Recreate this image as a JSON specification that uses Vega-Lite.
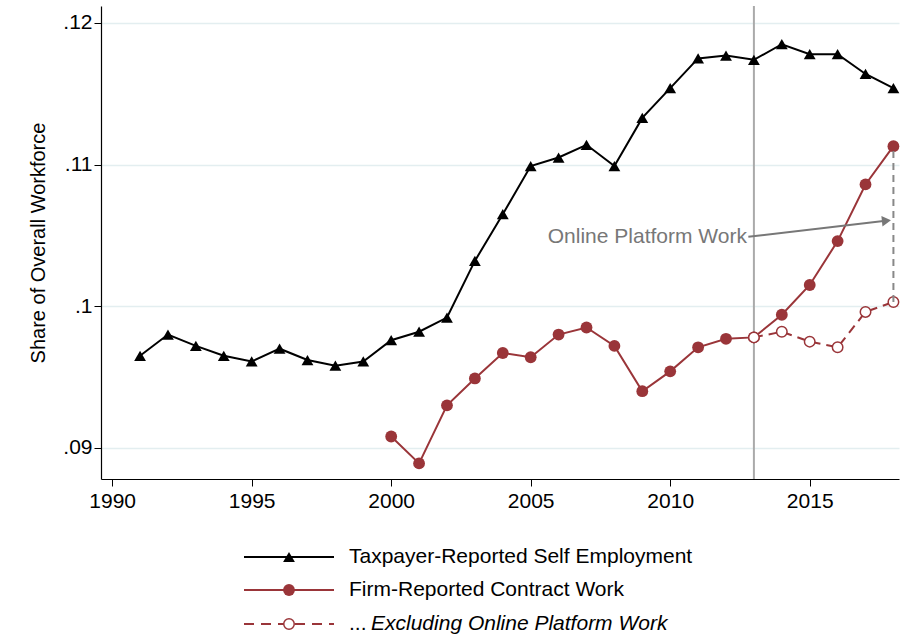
{
  "$schema": "https://vega.github.io/schema/vega-lite/v6.json",
  "background": "white",
  "padding": {"left": 28, "top": 5, "right": 0, "bottom": 0},
  "config": {
    "font": "Liberation Sans",
    "view": {"stroke": null},
    "axis": {"labelFontSize": 21, "titleFontSize": 20, "labelColor": "#000", "titleColor": "#000", "titleFontWeight": "normal", "tickColor": "#000", "domainColor": "#000", "tickSize": 7, "domainWidth": 1.2}
  },
  "datasets": {
    "series": [
      {"year": 1991, "value": 0.0965, "series": "self"},
      {"year": 1992, "value": 0.0980, "series": "self"},
      {"year": 1993, "value": 0.0972, "series": "self"},
      {"year": 1994, "value": 0.0965, "series": "self"},
      {"year": 1995, "value": 0.0961, "series": "self"},
      {"year": 1996, "value": 0.0970, "series": "self"},
      {"year": 1997, "value": 0.0962, "series": "self"},
      {"year": 1998, "value": 0.0958, "series": "self"},
      {"year": 1999, "value": 0.0961, "series": "self"},
      {"year": 2000, "value": 0.0976, "series": "self"},
      {"year": 2001, "value": 0.0982, "series": "self"},
      {"year": 2002, "value": 0.0992, "series": "self"},
      {"year": 2003, "value": 0.1032, "series": "self"},
      {"year": 2004, "value": 0.1065, "series": "self"},
      {"year": 2005, "value": 0.1099, "series": "self"},
      {"year": 2006, "value": 0.1105, "series": "self"},
      {"year": 2007, "value": 0.1114, "series": "self"},
      {"year": 2008, "value": 0.1099, "series": "self"},
      {"year": 2009, "value": 0.1133, "series": "self"},
      {"year": 2010, "value": 0.1154, "series": "self"},
      {"year": 2011, "value": 0.1175, "series": "self"},
      {"year": 2012, "value": 0.1177, "series": "self"},
      {"year": 2013, "value": 0.1174, "series": "self"},
      {"year": 2014, "value": 0.1185, "series": "self"},
      {"year": 2015, "value": 0.1178, "series": "self"},
      {"year": 2016, "value": 0.1178, "series": "self"},
      {"year": 2017, "value": 0.1164, "series": "self"},
      {"year": 2018, "value": 0.1154, "series": "self"},
      {"year": 2000, "value": 0.0908, "series": "firm"},
      {"year": 2001, "value": 0.0889, "series": "firm"},
      {"year": 2002, "value": 0.0930, "series": "firm"},
      {"year": 2003, "value": 0.0949, "series": "firm"},
      {"year": 2004, "value": 0.0967, "series": "firm"},
      {"year": 2005, "value": 0.0964, "series": "firm"},
      {"year": 2006, "value": 0.0980, "series": "firm"},
      {"year": 2007, "value": 0.0985, "series": "firm"},
      {"year": 2008, "value": 0.0972, "series": "firm"},
      {"year": 2009, "value": 0.0940, "series": "firm"},
      {"year": 2010, "value": 0.0954, "series": "firm"},
      {"year": 2011, "value": 0.0971, "series": "firm"},
      {"year": 2012, "value": 0.0977, "series": "firm"},
      {"year": 2013, "value": 0.0978, "series": "firm"},
      {"year": 2014, "value": 0.0994, "series": "firm"},
      {"year": 2015, "value": 0.1015, "series": "firm"},
      {"year": 2016, "value": 0.1046, "series": "firm"},
      {"year": 2017, "value": 0.1086, "series": "firm"},
      {"year": 2018, "value": 0.1113, "series": "firm"},
      {"year": 2013, "value": 0.0978, "series": "excl"},
      {"year": 2014, "value": 0.0982, "series": "excl"},
      {"year": 2015, "value": 0.0975, "series": "excl"},
      {"year": 2016, "value": 0.0971, "series": "excl"},
      {"year": 2017, "value": 0.0996, "series": "excl"},
      {"year": 2018, "value": 0.1003, "series": "excl"}
    ],
    "legend": [
      {"row": 20, "x1": 143, "x2": 233, "xm": 188, "series": "self", "label": "Taxpayer-Reported Self Employment"},
      {"row": 53, "x1": 143, "x2": 233, "xm": 188, "series": "firm", "label": "Firm-Reported Contract Work"},
      {"row": 87, "x1": 143, "x2": 233, "xm": 188, "series": "excl", "label": "Excluding Online Platform Work"}
    ]
  },
  "vconcat": [
    {
      "width": 798,
      "height": 473,
      "encoding": {
        "x": {"field": "year", "type": "quantitative", "scale": {"domain": [1989.6, 2018.2], "nice": false, "zero": false},
          "axis": {"title": null, "grid": false, "values": [1990, 1995, 2000, 2005, 2010, 2015], "format": "d", "labelPadding": 4}},
        "y": {"field": "value", "type": "quantitative", "scale": {"domain": [0.0878, 0.1212], "nice": false, "zero": false},
          "axis": {"title": "Share of Overall Workforce", "values": [0.09, 0.1, 0.11, 0.12], "labelExpr": "replace(toString(datum.value), /^0/, '')", "grid": true, "gridColor": "#e3eef0", "gridWidth": 1.5, "titlePadding": 14}}
      },
      "layer": [
        {"data": {"values": [{"year": 2013}]}, "mark": {"type": "rule", "color": "#aaaaaa", "strokeWidth": 2}, "encoding": {"x": {"field": "year", "type": "quantitative"}, "y": null}},
        {"data": {"name": "series"}, "transform": [{"filter": "datum.series == 'self'"}], "mark": {"type": "line", "color": "#000", "strokeWidth": 2}},
        {"data": {"name": "series"}, "transform": [{"filter": "datum.series == 'self'"}], "mark": {"type": "point", "shape": "triangle-up", "filled": true, "color": "#000", "size": 140, "opacity": 1}},
        {"data": {"name": "series"}, "transform": [{"filter": "datum.series == 'excl'"}], "mark": {"type": "line", "color": "#9a3539", "strokeWidth": 2, "strokeDash": [9, 6]}},
        {"data": {"name": "series"}, "transform": [{"filter": "datum.series == 'firm'"}], "mark": {"type": "line", "color": "#9a3539", "strokeWidth": 2}},
        {"data": {"name": "series"}, "transform": [{"filter": "datum.series == 'firm'"}], "mark": {"type": "point", "shape": "circle", "filled": true, "color": "#9a3539", "size": 140, "opacity": 1}},
        {"data": {"name": "series"}, "transform": [{"filter": "datum.series == 'excl'"}], "mark": {"type": "point", "shape": "circle", "filled": true, "fill": "white", "stroke": "#9a3539", "strokeWidth": 1.5, "size": 110, "opacity": 1}},
        {"data": {"values": [{"year": 2018, "lo": 0.1003, "hi": 0.1113}]}, "mark": {"type": "rule", "color": "#888888", "strokeWidth": 2, "strokeDash": [7, 5]},
          "encoding": {"x": {"field": "year", "type": "quantitative"}, "y": {"field": "lo", "type": "quantitative"}, "y2": {"field": "hi"}}},
        {"data": {"values": [{"x1": 2012.8, "y1": 0.1049, "x2": 2017.8, "y2": 0.10605}]}, "mark": {"type": "rule", "color": "#777777", "strokeWidth": 2},
          "encoding": {"x": {"field": "x1", "type": "quantitative"}, "y": {"field": "y1", "type": "quantitative"}, "x2": {"field": "x2"}, "y2": {"field": "y2"}}},
        {"data": {"values": [{"x": 2017.75, "y": 0.10603}]}, "mark": {"type": "point", "shape": "triangle-right", "filled": true, "color": "#777777", "size": 110, "angle": -6, "opacity": 1},
          "encoding": {"x": {"field": "x", "type": "quantitative"}, "y": {"field": "y", "type": "quantitative"}}},
        {"data": {"values": [{"x": 2012.75, "y": 0.1049, "t": "Online Platform Work"}]}, "mark": {"type": "text", "align": "right", "baseline": "middle", "fontSize": 21, "color": "#777777"},
          "encoding": {"x": {"field": "x", "type": "quantitative"}, "y": {"field": "y", "type": "quantitative"}, "text": {"field": "t"}}}
      ]
    },
    {
      "width": 798,
      "height": 105,
      "data": {"name": "legend"},
      "encoding": {
        "y": {"field": "row", "type": "quantitative", "scale": {"domain": [0, 105], "reverse": true, "nice": false}, "axis": null}
      },
      "layer": [
        {"transform": [{"filter": "datum.series == 'self'"}], "mark": {"type": "rule", "color": "#000", "strokeWidth": 2},
          "encoding": {"x": {"field": "x1", "type": "quantitative", "scale": {"domain": [0, 798], "nice": false}, "axis": null}, "x2": {"field": "x2"}}},
        {"transform": [{"filter": "datum.series == 'firm'"}], "mark": {"type": "rule", "color": "#9a3539", "strokeWidth": 2},
          "encoding": {"x": {"field": "x1", "type": "quantitative"}, "x2": {"field": "x2"}}},
        {"transform": [{"filter": "datum.series == 'excl'"}], "mark": {"type": "rule", "color": "#9a3539", "strokeWidth": 2, "strokeDash": [10, 7]},
          "encoding": {"x": {"field": "x1", "type": "quantitative"}, "x2": {"field": "x2"}}},
        {"transform": [{"filter": "datum.series == 'self'"}], "mark": {"type": "point", "shape": "triangle-up", "filled": true, "color": "#000", "size": 140, "opacity": 1},
          "encoding": {"x": {"field": "xm", "type": "quantitative"}}},
        {"transform": [{"filter": "datum.series == 'firm'"}], "mark": {"type": "point", "shape": "circle", "filled": true, "color": "#9a3539", "size": 140, "opacity": 1},
          "encoding": {"x": {"field": "xm", "type": "quantitative"}}},
        {"transform": [{"filter": "datum.series == 'excl'"}], "mark": {"type": "point", "shape": "circle", "filled": true, "fill": "white", "stroke": "#9a3539", "strokeWidth": 1.5, "size": 110, "opacity": 1},
          "encoding": {"x": {"field": "xm", "type": "quantitative"}}},
        {"transform": [{"filter": "datum.series != 'excl'"}], "mark": {"type": "text", "align": "left", "baseline": "middle", "fontSize": 21, "color": "#000", "dx": 15},
          "encoding": {"x": {"field": "x2", "type": "quantitative"}, "text": {"field": "label"}}},
        {"transform": [{"filter": "datum.series == 'excl'"}], "mark": {"type": "text", "align": "left", "baseline": "middle", "fontSize": 21, "color": "#000", "dx": 15, "text": "..."},
          "encoding": {"x": {"field": "x2", "type": "quantitative"}}},
        {"transform": [{"filter": "datum.series == 'excl'"}], "mark": {"type": "text", "align": "left", "baseline": "middle", "fontSize": 21, "color": "#000", "dx": 37, "fontStyle": "italic"},
          "encoding": {"x": {"field": "x2", "type": "quantitative"}, "text": {"field": "label"}}}
      ]
    }
  ],
  "spacing": 26
}
